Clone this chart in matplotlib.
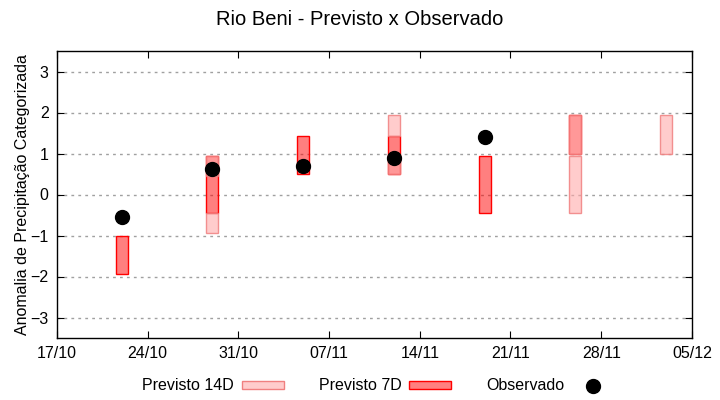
import pandas as pd
import matplotlib
matplotlib.use("Agg")
import matplotlib.pyplot as plt
import matplotlib.dates as mdates
from matplotlib.patches import Patch
from matplotlib.lines import Line2D

plt.rcParams['font.family'] = ['Liberation Sans', 'DejaVu Sans']

# previsto 7 dias: data, limite inferior, limite superior
d7_dates = ["2023-10-22", "2023-10-29", "2023-11-05", "2023-11-12", "2023-11-19", "2023-11-26"]
d7_lo = [-1.95, -0.45, 0.5, 0.5, -0.45, 1.0]
d7_hi = [-1.0, 0.95, 1.43, 1.43, 0.95, 1.95]

# previsto 14 dias (uma caixa por categoria)
d14_dates = ["2023-10-29", "2023-10-29", "2023-11-12", "2023-11-12", "2023-11-26", "2023-11-26", "2023-12-03"]
d14_lo = [-0.95, 0.45, 1.43, 0.5, -0.45, 1.0, 1.0]
d14_hi = [-0.45, 0.95, 1.95, 0.95, 0.95, 1.95, 1.95]

# observado
obs_dates = ["2023-10-22", "2023-10-29", "2023-11-05", "2023-11-12", "2023-11-19"]
obs_val = [-0.55, 0.63, 0.7, 0.9, 1.41]

xticks = pd.date_range("2023-10-17", "2023-12-05", freq="7D")
yticks = [-3, -2, -1, 0, 1, 2, 3]

bw = 0.93

fig = plt.figure(figsize=(7.2, 4), dpi=100)
ax = fig.add_axes([0.079, 0.155, 0.882, 0.7175])

x7 = mdates.date2num(pd.to_datetime(d7_dates))
h7 = [h - l for l, h in zip(d7_lo, d7_hi)]
ax.bar(x7, h7, bottom=d7_lo, width=bw, facecolor=(1, 0, 0, 0.5),
       edgecolor="red", linewidth=1.0, zorder=3)

x14 = mdates.date2num(pd.to_datetime(d14_dates))
h14 = [h - l for l, h in zip(d14_lo, d14_hi)]
ax.bar(x14, h14, bottom=d14_lo, width=bw, facecolor=(1, 0.667, 0.667, 0.6),
       edgecolor=(0.94, 0.5, 0.5, 0.85), linewidth=1.0, zorder=4)

xo = mdates.date2num(pd.to_datetime(obs_dates))
ax.plot(xo, obs_val, "o", color="black", markersize=10, zorder=5)

ax.set_xlim(mdates.date2num(xticks[0]), mdates.date2num(xticks[-1]))
ax.set_ylim(-3.5, 3.5)
ax.set_xticks(mdates.date2num(xticks))
ax.xaxis.set_major_formatter(mdates.DateFormatter("%d/%m"))
ax.set_yticks(yticks)
ax.tick_params(direction="in", top=True, right=True, length=5, labelsize=11.5, pad=6)
ax.yaxis.grid(True, color="#a0a0a0", linestyle=(0, (2, 3)), linewidth=1)
ax.set_axisbelow(True)
for s in ax.spines.values():
    s.set_linewidth(1)

ax.set_ylabel("Anomalia de Precipitação Categorizada", fontsize=11.5, labelpad=0)
fig.suptitle("Rio Beni - Previsto x Observado", fontsize=14.5, y=0.975)

handles = [
    Patch(facecolor=(1, 0.8, 0.8), edgecolor=(0.94, 0.5, 0.5), linewidth=1.0),
    Patch(facecolor=(1, 0.5, 0.5), edgecolor="red", linewidth=1.0),
    Line2D([], [], marker="o", color="black", linestyle="none", markersize=10),
]
fig.legend(handles, ["Previsto 14D", "Previsto 7D", "Observado"], loc="center",
           bbox_to_anchor=(0.525, 0.035), ncol=3, frameon=False, markerfirst=False,
           fontsize=11.5, handlelength=2.6, handleheight=0.4, columnspacing=2.2,
           handletextpad=0.5)

fig.savefig("out.png", dpi=100)
